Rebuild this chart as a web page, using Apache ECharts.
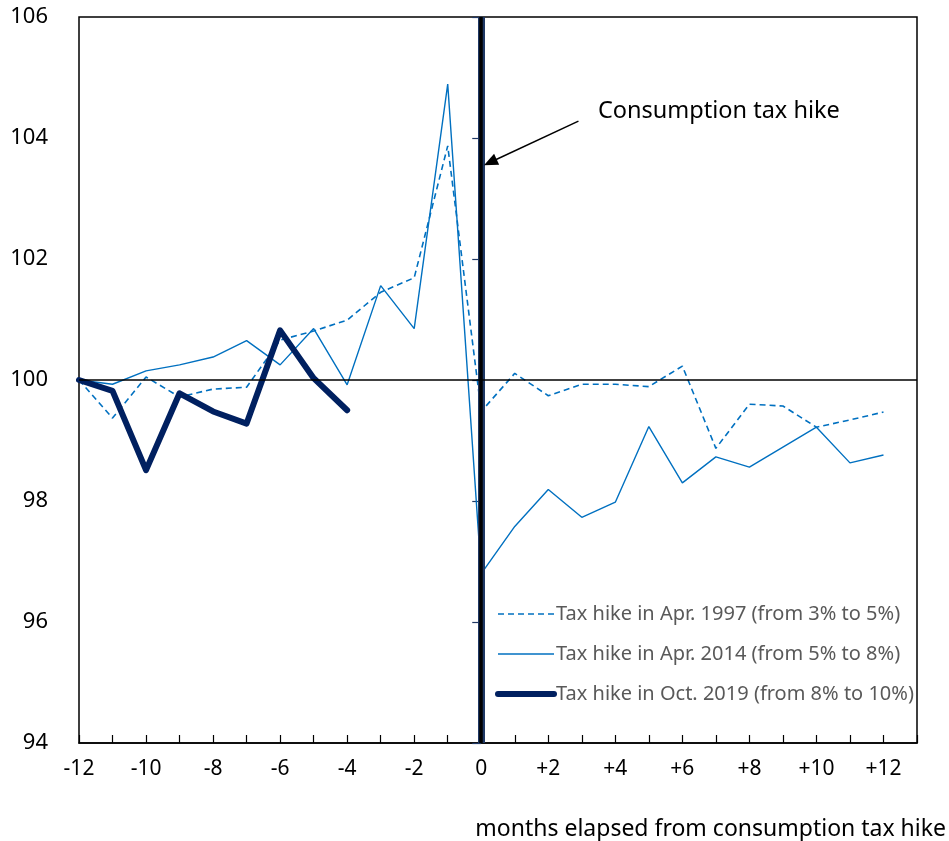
<!DOCTYPE html>
<html>
<head>
<meta charset="utf-8">
<script src="https://cdn.jsdelivr.net/npm/echarts@6/dist/echarts.min.js"></script>
<style>
  html, body { margin: 0; padding: 0; background: #fff; }
  #chart { width: 949px; height: 841px; }
</style>
</head>
<body>
<div id="chart"></div>
<script>
/* ---------- data ---------- */
const months = [-12, -11, -10, -9, -8, -7, -6, -5, -4, -3, -2, -1, 0, 1, 2, 3, 4, 5, 6, 7, 8, 9, 10, 11, 12];

const hike1997 = [100.0, 99.37, 100.05, 99.72, 99.85, 99.88, 100.66, 100.81, 100.99, 101.45, 101.69, 103.87,
  99.48, 100.11, 99.74, 99.93, 99.93, 99.89, 100.23, 98.87, 99.6, 99.57, 99.22, 99.34, 99.47];
const hike2014 = [100.0, 99.93, 100.15, 100.25, 100.38, 100.65, 100.25, 100.85, 99.92, 101.56, 100.85, 104.89,
  96.8, 97.58, 98.19, 97.73, 97.98, 99.23, 98.3, 98.73, 98.56, 98.89, 99.22, 98.63, 98.76];
const hike2019 = [100.0, 99.82, 98.51, 99.78, 99.48, 99.28, 100.82, 100.03, 99.5];

const seriesNames = [
  "Tax hike in Apr. 1997 (from 3% to 5%)",
  "Tax hike in Apr. 2014 (from 5% to 8%)",
  "Tax hike in Oct. 2019 (from 8% to 10%)",
];

const pairs = (vals) => vals.map((v, i) => [months[i], v]);

/* ---------- chart ---------- */
const chart = echarts.init(document.getElementById("chart"));
const font = "'Noto Sans', 'Open Sans', sans-serif";

chart.setOption({
  animation: false,
  grid: {
    left: 79, top: 17, right: 32, bottom: 98,
    show: true, borderColor: "#000", borderWidth: 1.5,
  },
  xAxis: {
    type: "value",
    min: -12, max: 13, interval: 1,
    name: "months elapsed from consumption tax hike",
    nameLocation: "end",
    nameGap: 0,
    nameTextStyle: {
      fontFamily: font, fontSize: 23, color: "#000",
      align: "right", verticalAlign: "top",
      padding: [75, -29, 0, 0],
    },
    axisLine: { lineStyle: { color: "#000", width: 1.5 } },
    axisTick: { inside: true, length: 8, lineStyle: { color: "#000", width: 1.2 } },
    splitLine: { show: false },
    axisLabel: {
      fontFamily: font, fontSize: 21, color: "#000", margin: 16,
      formatter: (v) => (v % 2 !== 0 || v > 12 ? "" : v > 0 ? "+" + v : String(v)),
    },
  },
  yAxis: {
    type: "value",
    min: 94, max: 106, interval: 2,
    axisLine: { show: true, lineStyle: { color: "#1F3864", width: 1.5 } },
    axisTick: { show: true, length: 9, lineStyle: { color: "#1F3864", width: 1.2 } },
    splitLine: { show: false },
    axisLabel: { fontFamily: font, fontSize: 22, color: "#000", margin: 31 },
  },
  legend: {
    data: [
      { name: seriesNames[0], lineStyle: { width: 1.6 } },
      { name: seriesNames[1], lineStyle: { width: 1.4 } },
      { name: seriesNames[2], lineStyle: { width: 6 } },
    ],
    orient: "vertical",
    left: 490, top: 599,
    itemWidth: 56, itemHeight: 20, itemGap: 20,
    itemStyle: { opacity: 0 },
    textStyle: { fontFamily: font, fontSize: 20, lineHeight: 20, color: "#595959", padding: [0, 0, 0, -3] },
  },
  graphic: [
    {
      type: "text", left: 598, top: 99,
      style: { text: "Consumption tax hike", font: "23.5px " + font, fill: "#000" },
    },
  ],
  series: [
    {
      name: "zero", type: "line", data: [], silent: true, z: 1,
      markLine: {
        symbol: "none", silent: true, label: { show: false },
        data: [
          { xAxis: 0, lineStyle: { color: "#1F3864", width: 7, type: "solid" } },
          { yAxis: 100, lineStyle: { color: "#000", width: 1.5, type: "solid" } },
        ],
      },
    },
    {
      name: "zeroCore", type: "line", data: [], silent: true, z: 2,
      markLine: {
        symbol: "none", silent: true, label: { show: false },
        data: [{ xAxis: 0, lineStyle: { color: "#000", width: 3.5, type: "solid" } }],
      },
    },
    {
      name: "arrow", type: "line", data: [], silent: true, z: 6,
      markLine: {
        symbol: ["none", "triangle"], symbolSize: [12, 14], silent: true, label: { show: false },
        lineStyle: { color: "#000", width: 1.5, type: "solid" },
        data: [[{ coord: [2.9, 104.28] }, { coord: [0.27, 103.6] }]],
      },
    },
    {
      name: seriesNames[0], type: "line", data: pairs(hike1997), z: 3,
      symbol: "none", color: "#0070C0",
      lineStyle: { width: 1.6, type: [6, 4], color: "#0070C0" },
    },
    {
      name: seriesNames[1], type: "line", data: pairs(hike2014), z: 3,
      symbol: "none", color: "#0070C0",
      lineStyle: { width: 1.4, type: "solid", color: "#0070C0" },
    },
    {
      name: seriesNames[2], type: "line", data: pairs(hike2019), z: 4,
      symbol: "none", color: "#002060",
      lineStyle: { width: 6, color: "#002060", cap: "round", join: "round" },
    },
  ],
});
</script>
</body>
</html>
